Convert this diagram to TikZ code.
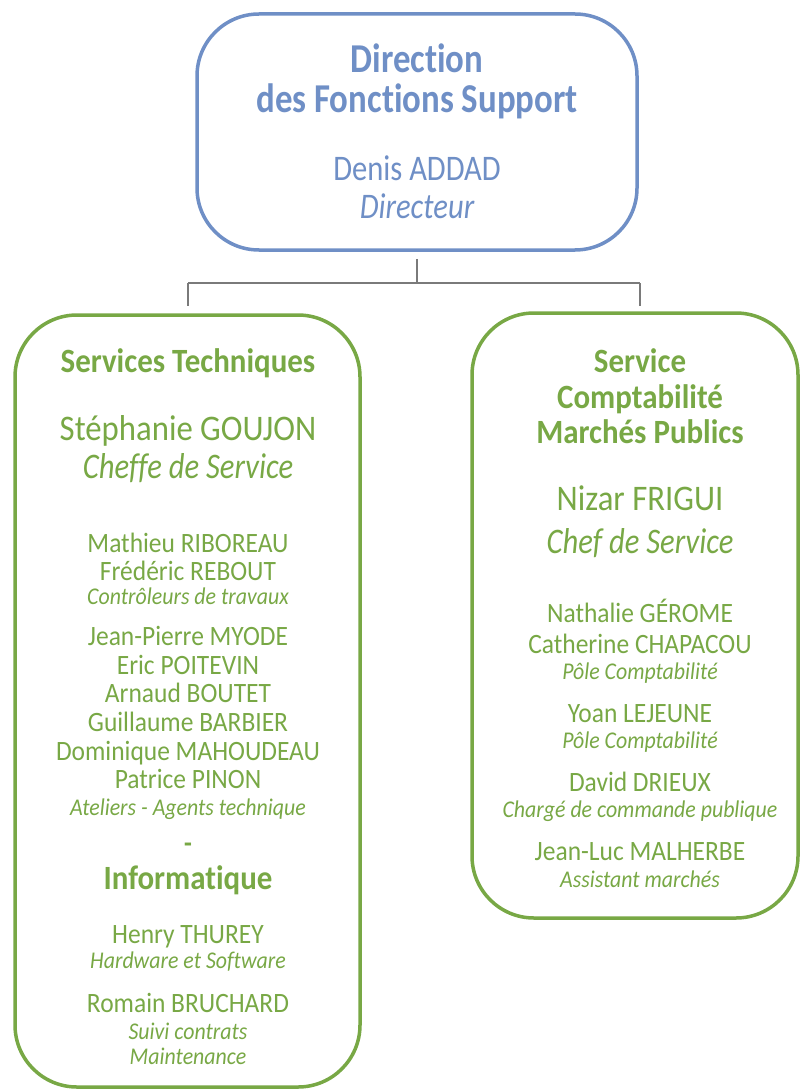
\documentclass[tikz,border=0pt]{standalone}
\usepackage{fontspec}
\setmainfont[FakeStretch=0.91,Ligatures=NoCommon]{Carlito}
\newfontfamily\narrowfont[FakeStretch=0.85,Ligatures=NoCommon]{Carlito}
\definecolor{dblue}{HTML}{6F8FC6}
\definecolor{dgreen}{HTML}{78A845}
\definecolor{dgray}{HTML}{7A7A7A}
\newcommand{\fsz}[1]{\fontsize{#1}{#1}\selectfont}
\begin{document}
\begin{tikzpicture}[x=1pt,y=-1pt,
  boxb/.style={draw=dblue,line width=3.5pt,rounded corners=62pt,inner sep=0pt},
  boxg/.style={draw=dgreen,line width=3.5pt,rounded corners=62pt,inner sep=0pt},
  conn/.style={draw=dgray,line width=2.2pt},
  tb/.style={anchor=base,inner sep=0pt,text=dblue},
  tg/.style={anchor=base,inner sep=0pt,text=dgreen},
  head/.style={font=\bfseries\fsz{34}},
  chief/.style={font=\fsz{36}},
  chiefr/.style={font=\narrowfont\itshape\fsz{36}},
  nm/.style={font=\fsz{28}},
  rl/.style={font=\itshape\fsz{24}}]
\useasboundingbox (0,0) rectangle (800,1091);
% boxes
\node[boxb,minimum width=440pt,minimum height=236pt] (top) at (417,132) {};
\node[boxg,minimum width=345pt,minimum height=772pt] (lbox) at (187.5,701) {};
\node[boxg,minimum width=326pt,minimum height=605pt] (rbox) at (635,615.5) {};
% connectors
\coordinate (j) at (417,283);
\draw[conn] ([yshift=-7pt]top.south) -- (j);
\draw[conn] (188,283) -- (640,283);
\draw[conn] (188,283) -- (188,306);
\draw[conn] (640,283) -- (640,306);
% top text
\node[tb,font=\narrowfont\bfseries\fsz{41}] (t1) at (417,73) {Direction};
\node[tb,font=\narrowfont\bfseries\fsz{41}] (t2) at (417,113) {des Fonctions Support};
\node[tb,font=\narrowfont\fsz{36}] (t3) at (417,181) {Denis ADDAD};
\node[tb,font=\narrowfont\itshape\fsz{36}] (t4) at (417,219) {Directeur};
% left text
\node[tg,head] (l1) at (188,372) {Services Techniques};
\node[tg,chief] (l2) at (188,440) {Stéphanie GOUJON};
\node[tg,chiefr] (l3) at (188,478) {Cheffe de Service};
\node[tg,nm] (l4) at (188,552) {Mathieu RIBOREAU};
\node[tg,nm] (l5) at (188,580) {Frédéric REBOUT};
\node[tg,rl] (l6) at (188,604) {Contrôleurs de travaux};
\node[tg,nm] (l7) at (188,645) {Jean-Pierre MYODE};
\node[tg,nm] (l8) at (188,674) {Eric POITEVIN};
\node[tg,nm] (l9) at (188,702) {Arnaud BOUTET};
\node[tg,nm] (l10) at (188,731) {Guillaume BARBIER};
\node[tg,nm] (l11) at (188,760) {Dominique MAHOUDEAU};
\node[tg,nm] (l12) at (188,788) {Patrice PINON};
\node[tg,rl] (l13) at (188,815) {Ateliers - Agents technique};
\node[tg,font=\bfseries\fsz{28}] (l14) at (188,852) {-};
\node[tg,head] (l15) at (188,889) {Informatique};
\node[tg,nm] (l16) at (188,943) {Henry THUREY};
\node[tg,rl] (l17) at (188,968) {Hardware et Software};
\node[tg,nm] (l18) at (188,1012) {Romain BRUCHARD};
\node[tg,rl] (l19) at (188,1039) {Suivi contrats};
\node[tg,rl] (l20) at (188,1064) {Maintenance};
% right text
\node[tg,head] (r1) at (640,372) {Service};
\node[tg,head] (r2) at (640,408) {Comptabilité};
\node[tg,head] (r3) at (640,443) {Marchés Publics};
\node[tg,chief] (r4) at (640,510) {Nizar FRIGUI};
\node[tg,chiefr] (r5) at (640,553) {Chef de Service};
\node[tg,nm] (r6) at (640,622) {Nathalie GÉROME};
\node[tg,nm] (r7) at (640,653) {Catherine CHAPACOU};
\node[tg,rl] (r8) at (640,679) {Pôle Comptabilité};
\node[tg,nm] (r9) at (640,722) {Yoan LEJEUNE};
\node[tg,rl] (r10) at (640,748) {Pôle Comptabilité};
\node[tg,nm] (r11) at (640,791) {David DRIEUX};
\node[tg,rl] (r12) at (640,817) {Chargé de commande publique};
\node[tg,nm] (r13) at (640,860) {Jean-Luc MALHERBE};
\node[tg,rl] (r14) at (640,887) {Assistant marchés};
\end{tikzpicture}
\end{document}
